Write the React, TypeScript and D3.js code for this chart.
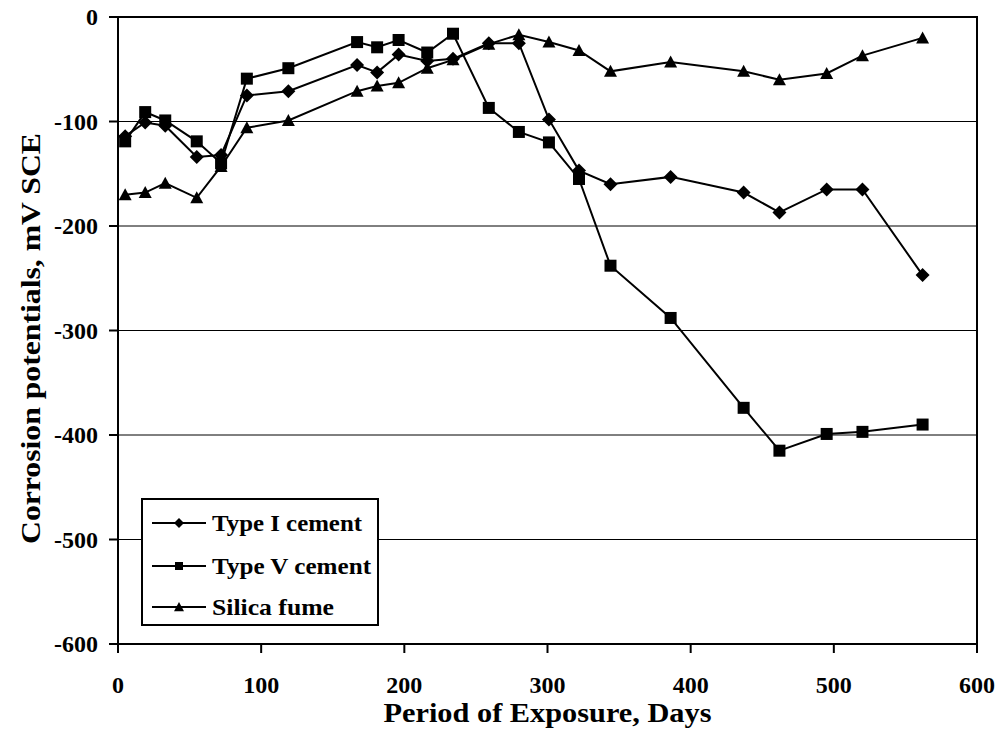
import React from "react";
import * as d3 from "d3";

const days = [5, 19, 33, 55, 72, 90, 119, 167, 181, 196, 216, 234, 259, 280, 301, 322, 344, 386, 437, 462, 495, 520, 562];
const typeI = [-114, -101, -104, -134, -132, -75, -71, -46, -53, -36, -42, -40, -25, -25, -98, -147, -160, -153, -168, -187, -165, -165, -247];
const typeV = [-119, -91, -99, -119, -140, -59, -49, -24, -29, -22, -34, -16, -87, -110, -120, -155, -238, -288, -374, -415, -399, -397, -390];
const silica = [-170, -168, -159, -173, -143, -106, -99, -71, -66, -63, -49, -41, -26, -17, -24, -32, -52, -43, -52, -60, -54, -37, -20];

const seriesNames = ["Type I cement", "Type V cement", "Silica fume"];
const seriesMarkers = ["diamond", "square", "triangle"];
const xTicks = [0, 100, 200, 300, 400, 500, 600];
const yTicks = [0, -100, -200, -300, -400, -500, -600];
const legendTextWidths = [150, 159, 122];

const W = 1004, H = 733;
const L = 118, R = 977, T = 17, B = 644;

function Marker({ type, x, y, s }: { type: string; x: number; y: number; s: number }) {
  if (type === "diamond") {
    const h = s / 2;
    return <path d={`M${x},${y - h}L${x + h},${y}L${x},${y + h}L${x - h},${y}Z`} fill="#000" />;
  }
  if (type === "square") {
    const h = s / 2;
    return <rect x={x - h} y={y - h} width={s} height={s} fill="#000" />;
  }
  const h = s / 2;
  return <path d={`M${x},${y - h}L${x + h},${y + h * 0.85}L${x - h},${y + h * 0.85}Z`} fill="#000" />;
}

export default function App() {
  const x = d3.scaleLinear().domain([0, 600]).range([L, R]);
  const y = d3.scaleLinear().domain([-600, 0]).range([B, T]);
  const data = [typeI, typeV, silica];
  const line = d3
    .line<[number, number]>()
    .x((d) => x(d[0]))
    .y((d) => y(d[1]));
  const sizes = [14, 12, 13];
  const font = '"Liberation Serif", Tinos, "Times New Roman", Times, serif';

  return (
    <svg width={W} height={H} style={{ position: "absolute", left: 0, top: 0, background: "#fff", fontFamily: font }}>
      <rect x={0} y={0} width={W} height={H} fill="#fff" />
      {yTicks.filter((t) => t !== 0 && t !== -600).map((t) => (
        <line key={t} x1={L} x2={R} y1={y(t)} y2={y(t)} stroke="#000" strokeWidth={1} />
      ))}
      <rect x={L} y={T} width={R - L} height={B - T} fill="none" stroke="#000" strokeWidth={2} />
      {yTicks.map((t) => (
        <g key={t}>
          <line x1={L - 9} x2={L} y1={y(t)} y2={y(t)} stroke="#000" strokeWidth={2} />
          <text x={98} y={y(t) + 8} textAnchor="end" fontSize={24} fontWeight="bold" style={{ fontFamily: font }}>
            {t}
          </text>
        </g>
      ))}
      {xTicks.map((t) => (
        <g key={t}>
          <line x1={x(t)} x2={x(t)} y1={B} y2={B + 9} stroke="#000" strokeWidth={2} />
          <text x={x(t)} y={693} textAnchor="middle" fontSize={24} fontWeight="bold" style={{ fontFamily: font }}>
            {t}
          </text>
        </g>
      ))}
      {data.map((vals, si) => {
        const pts: [number, number][] = days.map((d, i) => [d, vals[i]]);
        return (
          <g key={si}>
            <path d={line(pts) || ""} fill="none" stroke="#000" strokeWidth={2} />
            {pts.map((p, i) => (
              <Marker key={i} type={seriesMarkers[si]} x={x(p[0])} y={y(p[1])} s={sizes[si]} />
            ))}
          </g>
        );
      })}
      <rect x={142} y={499} width={236} height={126} fill="#fff" stroke="#000" strokeWidth={2} />
      {seriesNames.map((name, i) => {
        const cy = [523, 566, 607][i];
        return (
          <g key={name}>
            <line x1={152} x2={206} y1={cy} y2={cy} stroke="#000" strokeWidth={2} />
            <Marker type={seriesMarkers[i]} x={179} y={cy} s={[10, 8, 10][i]} />
            <text x={212} y={cy + 8} fontSize={24} fontWeight="bold" textLength={legendTextWidths[i]} lengthAdjust="spacingAndGlyphs" style={{ fontFamily: font }}>
              {name}
            </text>
          </g>
        );
      })}
      <text x={(L + R) / 2} y={722} textAnchor="middle" fontSize={27} fontWeight="bold" textLength={328} lengthAdjust="spacingAndGlyphs" style={{ fontFamily: font }}>
        Period of Exposure, Days
      </text>
      <text
        transform={`translate(40,${(T + B) / 2 + 8}) rotate(-90)`}
        textAnchor="middle"
        fontSize={27}
        fontWeight="bold"
        textLength={411}
        lengthAdjust="spacingAndGlyphs"
        style={{ fontFamily: font }}
      >
        Corrosion potentials, mV SCE
      </text>
    </svg>
  );
}
